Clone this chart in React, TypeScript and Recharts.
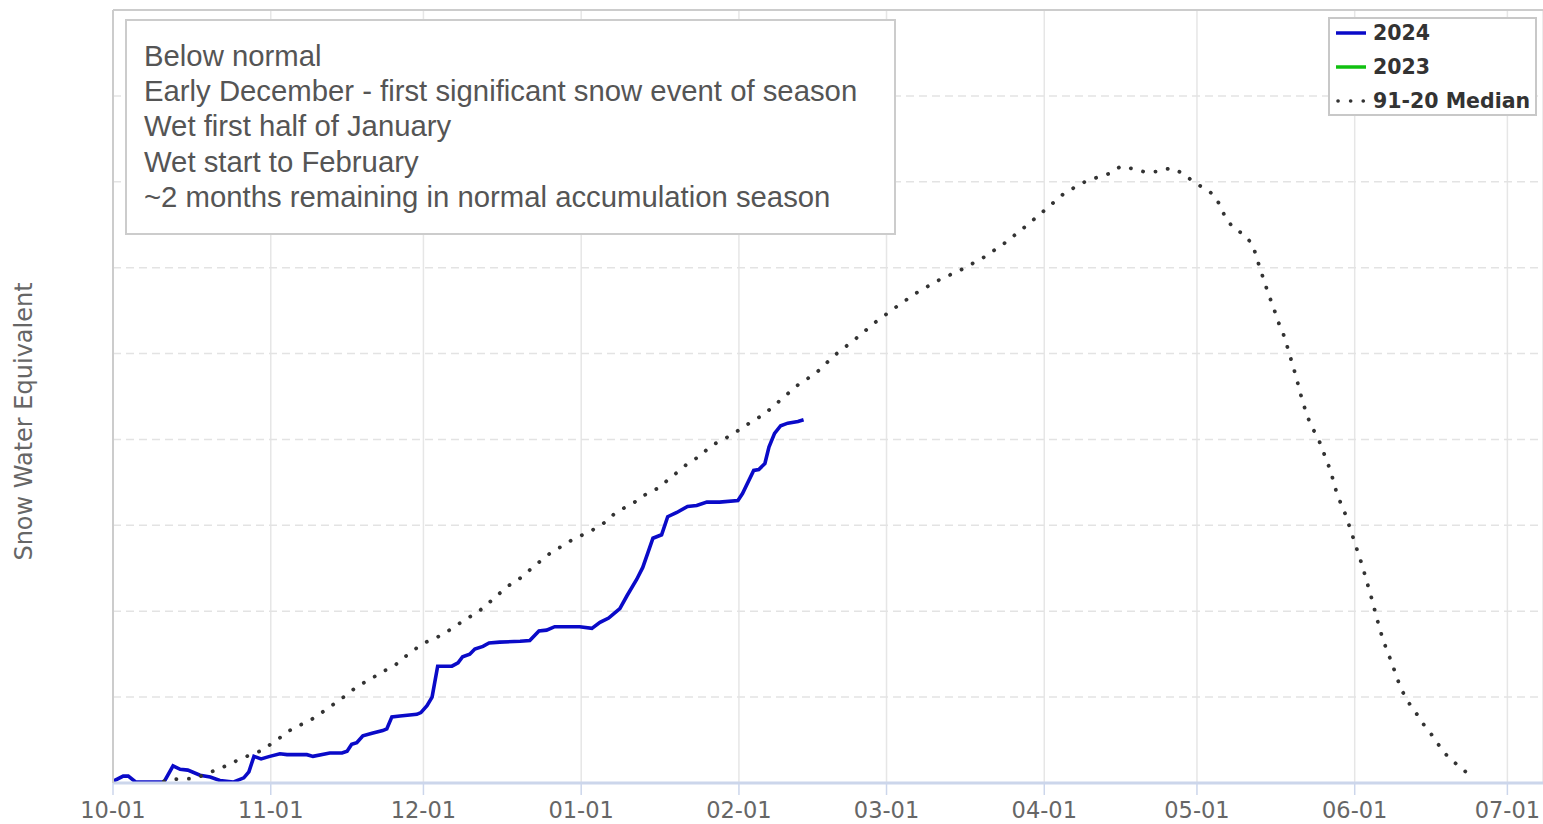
import {
  LineChart,
  Line,
  XAxis,
  YAxis,
  CartesianGrid,
  ReferenceLine,
  Legend,
} from 'recharts'

// days counted from Oct 1 (water year start)
const monthTicks = [0, 31, 61, 92, 123, 152, 183, 213, 244, 274]
const monthLabels = ['10-01', '11-01', '12-01', '01-01', '02-01', '03-01', '04-01', '05-01', '06-01', '07-01']
const gridValues = [1, 2, 3, 4, 5, 6, 7, 8]
const legendOrder = ['2024', '2023', '91-20 Median']

// 2024 water year (through mid Feb)
const days2024 = [
  0, 2, 3, 4.5, 10, 11.8, 13.2, 14.7, 17.1, 19.1, 21, 23.6, 25.7, 26.7, 27.7, 29.1, 30.8, 32.8, 34.2,
  38.1, 39.3, 42.6, 45, 46, 46.9, 47.9, 49.1, 50.9, 53, 53.8, 54.8, 56.4, 59.7, 60.5, 61.7, 62.7,
  63.8, 66.6, 67.8, 68.7, 70.1, 71.1, 72.7, 73.9, 76, 80, 81.9, 83.7, 85.2, 86.8, 89.2, 91.7, 94.1,
  95.7, 97.4, 98.6, 99.6, 101, 102.9, 104.1, 105.1, 106.1, 107.8, 109, 110.8, 112.9, 114.7, 116.7,
  119.2, 122.8, 123.7, 125.9, 126.9, 128.1, 128.9, 130, 131.2, 132.6, 134.6, 135.7,
]
const swe2024 = [
  0.02, 0.08, 0.08, 0.01, 0.01, 0.2, 0.16, 0.15, 0.09, 0.07, 0.03, 0.01, 0.06, 0.13, 0.31, 0.28, 0.31, 0.34, 0.33,
  0.33, 0.31, 0.35, 0.35, 0.37, 0.45, 0.47, 0.55, 0.58, 0.61, 0.63, 0.77, 0.78, 0.8, 0.82, 0.9, 1.0,
  1.36, 1.36, 1.4, 1.47, 1.5, 1.56, 1.59, 1.63, 1.64, 1.65, 1.66, 1.77, 1.78, 1.82, 1.82, 1.82, 1.8,
  1.87, 1.92, 1.98, 2.03, 2.18, 2.37, 2.51, 2.68, 2.85, 2.89, 3.1, 3.15, 3.22, 3.23, 3.27,
  3.27, 3.29, 3.37, 3.64, 3.65, 3.72, 3.91, 4.07, 4.16, 4.19, 4.21, 4.23,
]

// 1991-2020 median
const medianDays = [
  10, 13, 16, 18, 20.2, 22.6, 25, 27.1, 29.3, 31.4, 33.6, 35.6, 37.9, 40.1, 42.2, 44.4, 46.4, 48.3,
  50.5, 52.6, 55, 57, 58.9, 61.1, 63.5, 65.6, 67.6, 69.7, 71.9, 73.9, 75.8, 77.8, 79.9, 81.9, 83.9,
  85.8, 88, 90.2, 92.3, 94.7, 96.8, 98.8, 101, 103.1, 105.1, 107.4, 109.4, 111.4, 113.1, 115.5, 117.3,
  119.6, 121.8, 123.7, 125.9, 128.1, 130, 132, 134, 136, 138.1, 141.8, 145.9, 149.7, 153.6, 157.7,
  162.1, 166.8, 171.1, 175.3, 179.1, 183.1, 187, 191.3, 196, 198, 200.6, 203, 205.5, 207.8, 210.2,
  212.1, 214.2, 216.3, 217.6, 218.6, 220.2, 222.4, 224, 224.7, 225.5, 226.3, 227.1, 228, 228.8, 229.8,
  230.6, 231.3, 232, 232.7, 233.4, 234.1, 234.9, 236, 237.1, 238, 238.9, 239.7, 240.4, 241.3, 242.3,
  243.1, 243.9, 244.7, 245.5, 246.2, 246.9, 247.6, 248.2, 248.9, 249.6, 250.5, 251.4, 252.2, 253.1,
  254.3, 255.9, 257.3, 258.9, 260.3, 261.8, 263.6, 265.6, 267.7,
]
const medianSwe = [
  0.02, 0.05, 0.05, 0.1, 0.15, 0.21, 0.28, 0.33, 0.38, 0.47, 0.56, 0.65, 0.7, 0.78, 0.87, 0.96, 1.05, 1.14,
  1.2, 1.29, 1.35, 1.45, 1.54, 1.63, 1.69, 1.76, 1.84, 1.92, 2.0, 2.1, 2.2, 2.3, 2.38, 2.48, 2.58,
  2.67, 2.75, 2.83, 2.89, 2.96, 3.04, 3.15, 3.22, 3.29, 3.38, 3.44, 3.55, 3.64, 3.73, 3.81, 3.92,
  3.99, 4.06, 4.14, 4.22, 4.3, 4.4, 4.5, 4.61, 4.69, 4.77, 4.98, 5.17, 5.36, 5.53, 5.7,
  5.85, 5.98, 6.12, 6.29, 6.47, 6.67, 6.87, 7.01, 7.1, 7.18, 7.15, 7.11, 7.12, 7.16, 7.1,
  7.01, 6.93, 6.85, 6.72, 6.58, 6.46, 6.38, 6.26, 6.12, 5.97, 5.83, 5.68, 5.55, 5.39, 5.26,
  5.11, 4.97, 4.83, 4.68, 4.52, 4.38, 4.24, 4.1, 3.97, 3.83, 3.69, 3.54, 3.39, 3.25, 3.11,
  2.96, 2.82, 2.67, 2.53, 2.38, 2.24, 2.09, 1.95, 1.8, 1.66, 1.52, 1.38, 1.24, 1.1,
  0.96, 0.83, 0.7, 0.58, 0.46, 0.34, 0.24, 0.14, 0.05,
]

const notes = [
  'Below normal',
  'Early December - first significant snow event of season',
  'Wet first half of January',
  'Wet start to February',
  '~2 months remaining in normal accumulation season',
]

const data2024 = days2024.map((day, i) => ({ day, swe: swe2024[i] }))
const dataMedian = medianDays.map((day, i) => ({ day, swe: medianSwe[i] }))

const axisFont = '"DejaVu Sans", sans-serif'

function MonthTick({ x = 0, y = 0, payload }: { x?: number; y?: number; payload?: { value: number } }) {
  const idx = monthTicks.indexOf(payload?.value ?? -1)
  return (
    <text x={x} y={y} dy={21} textAnchor="middle" fill="#666" fontSize={22.5} fontFamily={axisFont}>
      {monthLabels[idx] ?? ''}
    </text>
  )
}

function YTitle({ viewBox }: { viewBox?: { x: number; y: number; width: number; height: number } }) {
  if (!viewBox) return null
  const cx = viewBox.x + 24
  const cy = viewBox.y + viewBox.height / 2 + 25
  return (
    <text
      x={cx}
      y={cy}
      transform={`rotate(-90 ${cx} ${cy})`}
      textAnchor="middle"
      dominantBaseline="central"
      fill="#666"
      fontSize={24}
      fontFamily={axisFont}
    >
      Snow Water Equivalent
    </text>
  )
}

type LegendEntry = { value: string; color: string; payload?: { strokeDasharray?: string } }

function LegendBox({ payload }: { payload?: LegendEntry[] }) {
  const items = [...(payload ?? [])].sort((a, b) => legendOrder.indexOf(a.value) - legendOrder.indexOf(b.value))
  return (
    <div
      style={{
        width: 205,
        height: 95,
        border: '2px solid #c8c8c8',
        background: '#fff',
        boxSizing: 'content-box',
      }}
    >
      {items.map((entry, i) => {
        const dotted = !!entry.payload?.strokeDasharray
        return (
          <div key={i} style={{ display: 'flex', alignItems: 'center', height: 34, marginTop: i === 0 ? -3 : 0 }}>
            <svg width={40} height={20} style={{ marginLeft: 3 }}>
              {dotted ? (
                <line x1={5} y1={10} x2={34} y2={10} stroke="#333" strokeWidth={3.6} strokeDasharray="0.1 12.5" strokeLinecap="round" />
              ) : (
                <line x1={3} y1={10} x2={33} y2={10} stroke={entry.color} strokeWidth={3.5} />
              )}
            </svg>
            <span style={{ fontFamily: axisFont, fontWeight: 600, fontSize: 20.5, color: '#333' }}>{entry.value}</span>
          </div>
        )
      })}
    </div>
  )
}

export default function App() {
  return (
    <div style={{ position: 'relative', width: 1543, height: 824, background: '#fff' }}>
      <style>{'body { margin: 0; }'}</style>
      <LineChart width={1543} height={824} margin={{ top: 10, right: 0, bottom: 0, left: 0 }}>
        <CartesianGrid horizontal={false} stroke="#e6e6e6" strokeWidth={1.5} />
        <XAxis
          type="number"
          dataKey="day"
          domain={[0, 281]}
          ticks={monthTicks}
          tick={<MonthTick />}
          tickSize={12}
          tickLine={{ stroke: '#ccd6eb', strokeWidth: 1.5 }}
          axisLine={{ stroke: '#ccd6eb', strokeWidth: 3 }}
          height={41}
          allowDataOverflow
        />
        <YAxis
          type="number"
          domain={[0, 9]}
          width={113}
          tick={false}
          tickLine={false}
          axisLine={{ stroke: '#cccccc', strokeWidth: 2 }}
          label={<YTitle />}
        />
        {gridValues.map((v) => (
          <ReferenceLine key={v} y={v} stroke="#e3e3e3" strokeWidth={1.5} strokeDasharray="8 5" />
        ))}
        <ReferenceLine y={9} stroke="#cccccc" strokeWidth={2} />
        <Legend
          verticalAlign="middle"
          layout="horizontal"
          content={<LegendBox />}
          wrapperStyle={{ left: 1328, top: 17, width: 'auto' }}
        />
        <Line
          data={data2024}
          dataKey="swe"
          name="2024"
          type="linear"
          stroke="#0a0ac8"
          strokeWidth={3.6}
          dot={false}
          isAnimationActive={false}
        />
        <Line
          data={[]}
          dataKey="swe"
          name="2023"
          type="linear"
          stroke="#10c010"
          strokeWidth={3}
          dot={false}
          isAnimationActive={false}
        />
        <Line
          data={dataMedian}
          dataKey="swe"
          name="91-20 Median"
          type="linear"
          stroke="#333"
          strokeWidth={3.8}
          strokeDasharray="0.1 12.5"
          strokeLinecap="round"
          dot={false}
          isAnimationActive={false}
        />
      </LineChart>

      <div
        style={{
          position: 'absolute',
          left: 125,
          top: 19,
          width: 750,
          height: 195,
          border: '2px solid #cccccc',
          background: '#fff',
          padding: '17px 0 0 17px',
          boxSizing: 'content-box',
          fontFamily: '"Liberation Sans", Arial, sans-serif',
          fontSize: 29.3,
          lineHeight: '35.2px',
          color: '#555',
          whiteSpace: 'nowrap',
          overflow: 'hidden',
        }}
      >
        {notes.map((n, i) => (
          <div key={i}>{n}</div>
        ))}
      </div>
    </div>
  )
}
